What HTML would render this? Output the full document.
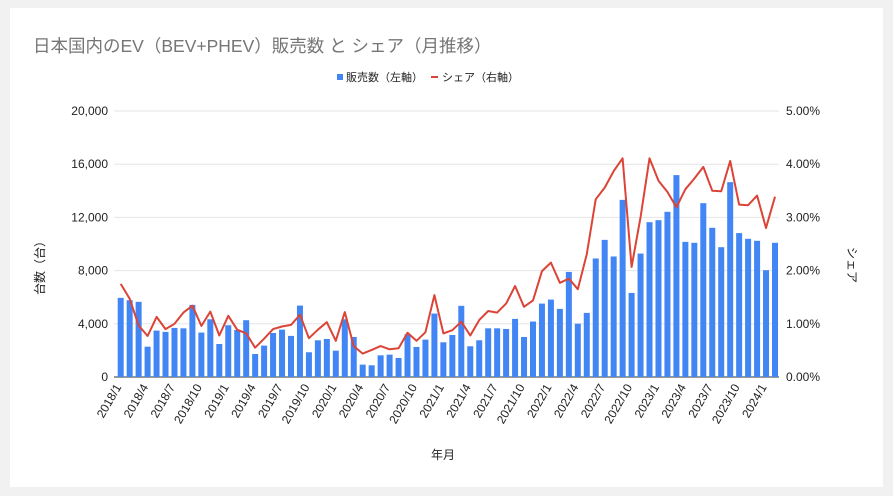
<!DOCTYPE html>
<html><head><meta charset="utf-8">
<style>
html,body{margin:0;padding:0;background:#f1f1f1;}
#card{position:absolute;left:10px;top:8px;width:873px;height:479px;background:#fff;}
svg{position:absolute;left:0;top:0;}
text{font-family:"Liberation Sans","Noto Sans CJK JP",sans-serif;}
</style></head>
<body>
<div id="card"></div>
<svg id="chart" width="893" height="496">
<text x="33" y="52" font-size="17.5" fill="#757575">日本国内のEV（BEV+PHEV）販売数 と シェア（月推移）</text>
<g>
<g><rect x="337" y="74" width="6" height="6" fill="#4285f4"></rect><text x="346" y="81" font-size="11" fill="#222">販売数（左軸）</text></g>
<g><rect x="431" y="76" width="7" height="2" fill="#db4437"></rect><text x="442" y="81" font-size="11" fill="#222">シェア（右軸）</text></g>
</g>
<g id="grid"></g>
<g id="bars"></g>
<path id="line" fill="none" stroke="#db4437" stroke-width="2" stroke-linejoin="round"></path>
<g id="ylab"></g>
<g id="y2lab"></g>
<g id="xlab"></g>
<text transform="translate(44,265) rotate(-90)" text-anchor="middle" font-size="12" fill="#222">台数（台）</text>
<text transform="translate(848,265) rotate(90)" text-anchor="middle" font-size="12" fill="#222">シェア</text>
<text x="443" y="459" text-anchor="middle" font-size="12" fill="#222">年月</text>
</svg>
<script>
const sales=[5950,5770,5650,2280,3490,3390,3690,3660,5420,3340,4340,2480,3890,3540,4270,1730,2360,3310,3560,3090,5370,1860,2760,2860,1980,4340,3010,930,880,1630,1680,1430,3210,2260,2810,4770,2610,3160,5350,2310,2760,3660,3660,3610,4370,3010,4170,5520,5820,5120,7900,4010,4820,8910,10310,9060,13320,6320,9280,11640,11790,12420,15180,10160,10090,13070,11220,9760,14650,10820,10390,10240,8030,10090];
const share=[1.75,1.47,0.97,0.77,1.13,0.90,1.00,1.21,1.34,0.96,1.23,0.78,1.15,0.89,0.82,0.55,0.72,0.90,0.95,0.98,1.17,0.73,0.89,1.03,0.68,1.22,0.58,0.44,0.51,0.58,0.52,0.54,0.83,0.68,0.84,1.54,0.82,0.88,1.04,0.78,1.07,1.24,1.21,1.38,1.71,1.32,1.44,1.99,2.15,1.77,1.85,1.65,2.31,3.34,3.56,3.87,4.11,2.07,3.01,4.11,3.69,3.48,3.19,3.53,3.73,3.95,3.50,3.49,4.06,3.24,3.23,3.41,2.80,3.39];
const leftTicks=[0,4000,8000,12000,16000,20000];
const leftTickLabels=["0","4,000","8,000","12,000","16,000","20,000"];
const rightTicks=[0,1,2,3,4,5];
const rightTickLabels=["0.00%","1.00%","2.00%","3.00%","4.00%","5.00%"];
const startYear=2018, startMonth=1;
const NS="http://www.w3.org/2000/svg";
const X0=120.7, STEP=(775-120.7)/73, Y0=377, YT=111;
const yL=v=>Y0-(v/20000)*(Y0-YT);
const yR=v=>Y0-(v/5)*(Y0-YT);
const xI=i=>X0+i*STEP;
function mk(tag,attrs,parent){const e=document.createElementNS(NS,tag);for(const k in attrs)e.setAttribute(k,attrs[k]);parent.appendChild(e);return e;}
const grid=document.getElementById('grid');
leftTicks.forEach((t,i)=>{
 const l=mk('line',{x1:114,x2:779,y1:yL(t),y2:yL(t),stroke:i===0?'#333':'#e6e6e6','stroke-width':1},grid);
 
 
 const tx=mk('text',{x:108,y:yL(t)+4,'text-anchor':'end','font-size':12,fill:'#222'},document.getElementById('ylab'));
 tx.textContent=leftTickLabels[i];
 
 
});
rightTicks.forEach((t,i)=>{
 const tx=mk('text',{x:786,y:yR(t)+4,'font-size':12,fill:'#222'},document.getElementById('y2lab'));
 tx.textContent=rightTickLabels[i];
 
 
});
const bars=document.getElementById('bars');
sales.forEach((v,i)=>{
 const r=mk('rect',{x:xI(i)-3,y:yL(v),width:6,height:Y0-yL(v),fill:'#4285f4'},bars);
 
 
});
document.getElementById('line').setAttribute('d',share.map((v,i)=>(i?'L':'M')+xI(i).toFixed(1)+','+yR(v).toFixed(1)).join(''));
const xl=document.getElementById('xlab');
for(let i=0;i<sales.length;i+=3){
 const m=startMonth-1+i, y=startYear+Math.floor(m/12), mo=m%12+1;
 const tx=mk('text',{transform:`translate(${xI(i)+1},${Y0+10}) rotate(-60)`,'text-anchor':'end','font-size':12,fill:'#222'},xl);
 tx.textContent=y+'/'+mo;
 
 
}
</script>
</body></html>
